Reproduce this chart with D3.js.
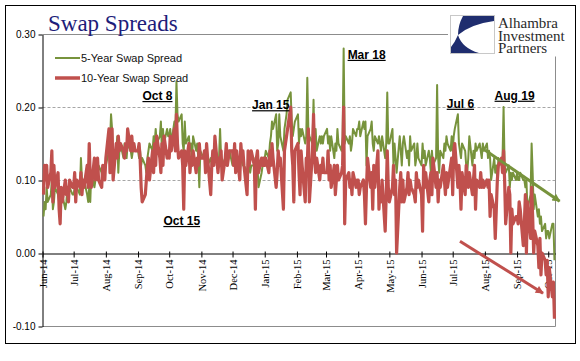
<!DOCTYPE html>
<html>
<head>
<meta charset="utf-8">
<script src="https://cdn.jsdelivr.net/npm/d3@7/dist/d3.min.js"></script>
<style>
  body { margin: 0; background: #fff; }
  svg { display: block; }
</style>
</head>
<body>
<svg id="chart" width="580" height="361"></svg>
<script>
// Daily swap spreads in basis points, one row per month (weekdays only)
const spread5y = [
  5, 7, 6, 9, 7, 8, 10, 6, 7, 9, 8, 7, 6, 9, 8, 6, 7, 9, 8, 9, 8,                    // Jun-14
  8, 9, 10, 9, 8, 13, 10, 9, 10, 8, 7, 9, 7, 11, 9, 10, 11, 10, 12, 11, 10, 11, 12,  // Jul-14
  12, 14, 15, 19, 17, 11, 14, 16, 11, 14, 15, 13, 15, 14, 13, 15, 14, 13, 14, 15, 14, // Aug-14
  14, 13, 14, 12, 13, 12, 11, 13, 14, 15, 14, 16, 15, 17, 15, 16, 18, 14, 17, 15, 17, 16, // Sep-14
  16, 17, 15, 18, 17, 23.5, 19, 18, 19, 15, 14, 18, 15, 16, 14, 15, 13, 16, 14, 15, 13, 9, 14, // Oct-14
  13, 14, 12, 14, 12, 13, 12, 14, 13, 15, 12, 13, 17, 13, 12, 13, 14, 12, 13, 14,    // Nov-14
  12, 13, 14, 12, 13, 11, 13, 13, 12, 12, 11, 12, 12, 11, 12, 12, 13, 12, 12, 9, 11, 12, 12, // Dec-14
  13, 14, 13, 15, 16, 18, 17, 19, 14, 15, 19, 16, 14, 17, 18, 19, 21, 22, 18, 16, 17, 18, // Jan-15
  19, 15, 17, 16, 17, 15, 16, 24, 17, 16, 15, 21, 14, 17, 14, 16, 15, 16, 15, 16,    // Feb-15
  17, 15, 16, 14, 16, 13, 15, 14, 17, 15, 14, 16, 28, 15, 16, 15, 16, 14, 15, 17, 16, 17, // Mar-15
  17, 18, 16, 18, 17, 18, 12, 16, 17, 18, 15, 14, 16, 15, 16, 15, 14, 16, 13, 15, 22, 15, // Apr-15
  15, 17, 12, 15, 13, 11, 16, 14, 12, 15, 16, 13, 14, 12, 16, 14, 15, 12, 13, 15, 13, // May-15
  12, 15, 13, 14, 12, 14, 13, 11, 14, 12, 13, 23, 13, 11, 14, 13, 15, 14, 16, 15, 14, 16, // Jun-15
  14, 16, 17, 19, 15, 14, 13, 15, 14, 12, 11, 13, 16, 12, 14, 13, 15, 14, 15, 14, 13, 15, 14, // Jul-15
  15, 13, 14, 13, 10, 13, 11, 12, 10, 13, 12, 13, 20, 12, 11, 12, 9, 11, 10, 11, 10, // Aug-15
  11, 10, 10, 11, 10, 10, 9, 10, 6, 8, 15, 11, 6, 8, 5, 6, 4, 5, 3, 4, 2, 3,         // Sep-15
  3, 2, 4, 4, -1                                                                     // Oct-15
];

const spread10y = [
  8, 12, 10, 12, 9, 11, 14, 7, 12, 9, 11, 6, 4, 9, 7, 10, 8, 9, 7, 10, 9,            // Jun-14
  9, 11, 7, 10, 9, 11, 8, 10, 9, 12, 9, 15, 10, 9, 13, 10, 12, 13, 10, 9, 12, 11, 10, // Jul-14
  13, 17, 11, 16, 17, 10, 15, 13, 16, 14, 15, 14, 13, 15, 14, 17, 14, 16, 14, 15, 14, // Aug-14
  14, 15, 13, 9, 7, 8, 10, 12, 13, 10, 14, 11, 15, 12, 16, 13, 11, 15, 12, 16, 13, 14, // Sep-14
  13, 16, 14, 17, 14, 19, 15, 13, 14, 12, 6, 14, 12, 15, 11, 13, 12, 14, 11, 13, 12, 15, 13, // Oct-14
  13, 14, 11, 15, 13, 8, 12, 14, 12, 16, 11, 13, 12, 14, 10, 13, 15, 12, 13, 14,    // Nov-14
  14, 12, 15, 11, 14, 10, 15, 13, 14, 12, 8, 14, 12, 13, 14, 12, 6, 13, 14, 11, 13, 12, 13, // Dec-14
  12, 13, 11, 14, 12, 15, 13, 9, 11, 14, 12, 13, 6, 14, 15, 16, 17, 20, 14, 12, 7, 14, // Jan-15
  15, 11, 8, 14, 12, 7, 13, 12, 17, 7, 14, 19, 13, 11, 13, 10, 12, 11, 13, 11,       // Feb-15
  11, 14, 10, 12, 9, 12, 8, 10, 12, 10, 11, 12, 20, 4, 10, 11, 9, 10, 8, 11, 9, 10,  // Mar-15
  10, 8, 9, 10, 8, 4, 9, 13, 9, 11, 6, 12, 9, 14, 6, 9, 7, 10, 3, 8, 14, 9,          // Apr-15
  7, 9, 12, 8, 10, 0, 9, 11, 7, 10, 7, 9, 11, 8, 10, 9, 8, 7, 11, 9, 10,             // May-15
  8, 3, 12, 9, 11, 7, 10, 11, 8, 13, 9, 11, 7, 10, 9, 12, 10, 8, 11, 9, 12, 13,      // Jun-15
  8, 14, 15, 9, 12, 10, 6, 11, 8, 12, 10, 9, 11, 8, 10, 12, 6, 10, 9, 11, 9, 10, 9,  // Jul-15
  10, 9, 10, 5, 8, 6, 2, 6, 10, 12, 13, 11, 14, 10, 4, 9, 8, 0, 6, 4, 5,             // Aug-15
  5, 4, 7, 6, 1, 4, 8, 0, 7, 2, 9, 5, 0, 3, 1, -2, 2, -3, 0, -1, -3, -1,             // Sep-15
  -6, -2, -6, -4, -9                                                                 // Oct-15
];

const seriesNames = ['5-Year Swap Spread', '10-Year Swap Spread'];
const yTicks = [-0.10, 0, 0.10, 0.20, 0.30];

// Dated call-outs on the chart
const noteLabels = ['Oct 8', 'Oct 15', 'Jan 15', 'Mar 18', 'Jul 6', 'Aug 19'];
const noteDates = ['2014-10-08', '2014-10-15', '2015-01-15', '2015-03-18', '2015-07-06', '2015-08-19'];

// Trend arrows: [start date, start spread, end date, end spread] in bp
const trend5y = ['2015-08-01', 14.1, '2015-10-12', 7.1];
const trend10y = ['2015-07-08', 1.6, '2015-09-26', -5.5];

// ---- styles ----
const GREEN = '#77933C';
const RED = '#C0504D';
const SANS = "'Liberation Sans', Arial, sans-serif";
const SERIF = "'Liberation Serif', 'Times New Roman', serif";

const svg = d3.select('#chart');
const parse = d3.utcParse('%Y-%m-%d');

// weekday calendar the series sit on
const days = d3.utcDay.range(parse('2014-06-02'), parse('2015-10-08'))
  .filter((d) => d.getUTCDay() % 6 !== 0);

const x = d3.scaleUtc()
  .domain([parse('2014-06-01'), parse('2015-10-08')])
  .range([42.5, 555.5]);
const y = d3.scaleLinear().domain([-0.10, 0.30]).range([326, 34]);

// outer frame
svg.append('rect')
  .attr('x', 5.5).attr('y', 5.5).attr('width', 570).attr('height', 338)
  .attr('fill', 'none').attr('stroke', '#000');

// gridlines and plot border
svg.append('g').selectAll('line')
  .data([0.10, 0.20])
  .join('line')
  .attr('x1', 42.5).attr('x2', 555.5)
  .attr('y1', (d) => Math.round(y(d)) + 0.5).attr('y2', (d) => Math.round(y(d)) + 0.5)
  .attr('stroke', '#a6a6a6').attr('stroke-dasharray', '3,2');

svg.append('path')
  .attr('d', `M42.5,${y(0.30) + 0.5}H555.5V${y(-0.10) + 0.5}H42.5`)
  .attr('fill', 'none').attr('stroke', '#8c8c8c');

// y axis
const yAxis = svg.append('g')
  .attr('transform', 'translate(42.5,0.5)')
  .call(d3.axisLeft(y).tickValues(yTicks).tickFormat((d) => d.toFixed(2))
    .tickSizeInner(4).tickSizeOuter(0).tickPadding(3));
yAxis.select('.domain').attr('stroke', '#000');
yAxis.selectAll('.tick line').attr('stroke', '#000');
yAxis.selectAll('.tick text')
  .attr('font-family', SANS).attr('font-size', 10).attr('fill', '#000');

// x axis on the zero line
const monthTicks = d3.utcMonth.range(parse('2014-06-01'), parse('2015-10-02'));
const xAxis = svg.append('g')
  .attr('transform', `translate(0,${y(0) + 0.5})`)
  .call(d3.axisBottom(x).tickValues(monthTicks).tickFormat(d3.utcFormat('%b-%y'))
    .tickSizeInner(5).tickSizeOuter(0));
xAxis.select('.domain').attr('stroke', '#000');
xAxis.selectAll('.tick line').attr('stroke', '#000').attr('y1', -2).attr('y2', 4);
xAxis.selectAll('.tick text')
  .attr('transform', 'rotate(-90)')
  .attr('text-anchor', 'end')
  .attr('x', -6).attr('y', 0).attr('dy', '0.35em')
  .attr('font-family', SERIF).attr('font-size', 10.5).attr('fill', '#000');

// series lines
const line = d3.line()
  .x((d) => x(d.date))
  .y((d) => y(d.value));

const toPoints = (values) => values
  .slice(0, days.length)
  .map((v, i) => ({date: days[i], value: v / 100}));

[[spread5y, GREEN, 2], [spread10y, RED, 3.2]].forEach(([values, color, width]) => {
  svg.append('path')
    .datum(toPoints(values))
    .attr('d', line)
    .attr('fill', 'none')
    .attr('stroke', color)
    .attr('stroke-width', width)
    .attr('stroke-linejoin', 'round');
});

// legend
[[GREEN, 2], [RED, 3.5]].forEach(([color, width], i) => {
  const ly = 58 + i * 20;
  svg.append('line')
    .attr('x1', 55).attr('x2', 80).attr('y1', ly).attr('y2', ly)
    .attr('stroke', color).attr('stroke-width', width);
  svg.append('text')
    .attr('x', 81).attr('y', ly + 4)
    .attr('font-family', SANS).attr('font-size', 11).attr('fill', '#111')
    .text(seriesNames[i]);
});

// trend arrows
const defs = svg.append('defs');
[['arrow-green', GREEN], ['arrow-red', RED]].forEach(([id, color]) => {
  defs.append('marker')
    .attr('id', id)
    .attr('viewBox', '0 0 10 10')
    .attr('refX', 9).attr('refY', 5)
    .attr('markerWidth', 10).attr('markerHeight', 8)
    .attr('markerUnits', 'userSpaceOnUse')
    .attr('orient', 'auto')
    .append('path').attr('d', 'M0,0L10,5L0,10Z').attr('fill', color);
});
[[trend5y, GREEN, 'arrow-green'], [trend10y, RED, 'arrow-red']].forEach(([t, color, id]) => {
  svg.append('line')
    .attr('x1', x(parse(t[0]))).attr('y1', y(t[1] / 100))
    .attr('x2', x(parse(t[2]))).attr('y2', y(t[3] / 100))
    .attr('stroke', color).attr('stroke-width', 3)
    .attr('marker-end', `url(#${id})`);
});

// call-out labels: offset from the event date and height in percent
const noteLayout = [[-19, 0.2096], [-2, 0.0384], [-8.5, 0.197], [23, 0.266], [2.5, 0.199], [11, 0.21]];
noteLabels.forEach((label, i) => {
  const [dx, level] = noteLayout[i];
  svg.append('text')
    .attr('x', x(parse(noteDates[i])) + dx)
    .attr('y', y(level))
    .attr('text-anchor', 'middle')
    .attr('font-family', SANS).attr('font-size', 12).attr('font-weight', 'bold')
    .attr('text-decoration', 'underline')
    .attr('fill', '#000')
    .text(label);
});

// title
svg.append('text')
  .attr('x', 48).attr('y', 31)
  .attr('font-family', SERIF).attr('font-size', 23).attr('fill', '#1d1d7a')
  .text('Swap Spreads');

// logo block
const logo = svg.append('g');
logo.append('rect')
  .attr('x', 448).attr('y', 8).attr('width', 126).attr('height', 48.5)
  .attr('fill', '#fff');
logo.append('rect')
  .attr('x', 450.5).attr('y', 15.5).attr('width', 44).attr('height', 38)
  .attr('fill', '#fff').attr('stroke', '#c8c8c8');
logo.append('path')
  .attr('d', 'M463,16L494,16L494,21Q471,24 458,35Q458,25 463,16Z')
  .attr('fill', '#1f2d6e');
logo.append('path')
  .attr('d', 'M458,35Q462,48 479,53L451,53L451,47Q455,42 458,35Z')
  .attr('fill', '#1f2d6e');
['Alhambra', 'Investment', 'Partners'].forEach((t, i) => {
  logo.append('text')
    .attr('x', 498).attr('y', 28 + i * 12.5)
    .attr('font-family', SERIF).attr('font-size', 15).attr('fill', '#2a2a2a')
    .text(t);
});
</script>
</body>
</html>
